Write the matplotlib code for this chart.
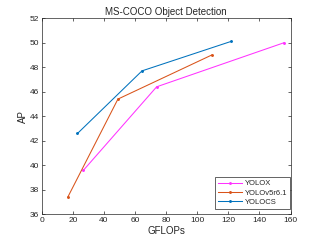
import matplotlib
matplotlib.use("Agg")
import matplotlib.pyplot as plt

plt.rcParams['font.family'] = ['Liberation Sans', 'DejaVu Sans']

series_names = ["YOLOX", "YOLOv5r6.1", "YOLOCS"]
yolox_gflops = [26.8, 73.9, 156.0]
yolox_ap = [39.6, 46.4, 50.0]
yolov5_gflops = [16.7, 49.0, 109.5]
yolov5_ap = [37.4, 45.4, 49.0]
yolocs_gflops = [23.0, 64.5, 121.8]
yolocs_ap = [42.6, 47.7, 50.1]

colors = ["#ff33ff", "#d95319", "#0072bd"]
gray = "#262626"

fig = plt.figure(figsize=(3.21, 2.41), dpi=100)
ax = fig.add_axes([0.13, 0.11, 0.775, 0.815])

for xs, ys, name, c in zip([yolox_gflops, yolov5_gflops, yolocs_gflops],
                           [yolox_ap, yolov5_ap, yolocs_ap], series_names, colors):
    ax.plot(xs, ys, color=c, lw=0.75, marker='.', markersize=2.2, label=name)

ax.set_xlim(0, 160)
ax.set_ylim(36, 52)
ax.set_xticks(range(0, 161, 20))
ax.set_yticks(range(36, 53, 2))
ax.tick_params(direction='in', length=2, width=0.5, labelsize=6, colors=gray,
               top=True, right=True, pad=2)
for s in ax.spines.values():
    s.set_linewidth(0.5)
    s.set_color(gray)
ax.set_xlabel("GFLOPs", fontsize=7, color=gray, labelpad=1)
ax.set_ylabel("AP", fontsize=7, color=gray, labelpad=1)
ax.set_title("MS-COCO Object Detection", fontsize=7, color=gray, pad=2)
leg = ax.legend(loc='lower right', bbox_to_anchor=(0.997, 0.03), fontsize=5.5,
                frameon=True, fancybox=False,
                edgecolor=gray, framealpha=1, handlelength=3.2, borderpad=0.35,
                labelspacing=0.25, handletextpad=0.3, borderaxespad=0.0)
leg.get_frame().set_linewidth(0.5)
for t in leg.get_texts():
    t.set_color(gray)

fig.savefig("out.png", dpi=100)
